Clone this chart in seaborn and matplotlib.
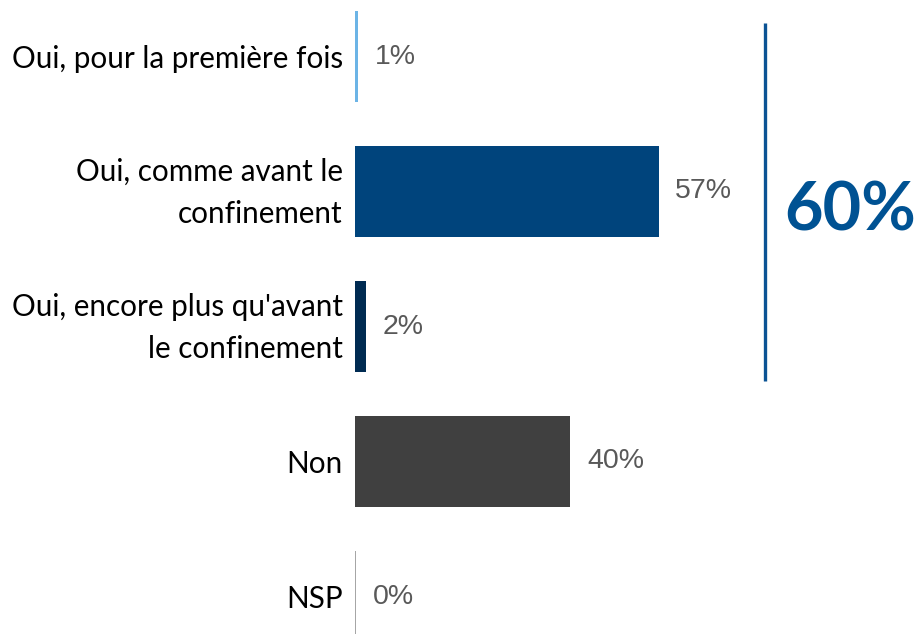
import matplotlib
matplotlib.use("Agg")
import matplotlib.pyplot as plt
import matplotlib.transforms as mtransforms
import seaborn as sns
import pandas as pd

categories = [
    "Oui, pour la première fois",
    "Oui, comme avant le\nconfinement",
    "Oui, encore plus qu'avant\nle confinement",
    "Non",
    "NSP",
]
values = [0.7, 56.9, 2.2, 40.4, 0.3]
value_labels = ["1%", "57%", "2%", "40%", "0%"]
colors = ["#6CB4E6", "#00447C", "#002B52", "#404040", "#A6A6A6"]

sns.set_theme(style="white")
plt.rcParams["font.family"] = ["Lato", "DejaVu Sans"]

df = pd.DataFrame({"cat": categories, "val": values})

W, H = 920, 634
fig = plt.figure(figsize=(W / 100, H / 100), dpi=100)
ax_left = 354.5
ax = fig.add_axes([ax_left / W, 0, (W - ax_left) / W, 1])

sns.barplot(data=df, x="val", y="cat", hue="cat", palette=colors,
            order=categories, hue_order=categories, legend=False,
            width=0.68, orient="h", ax=ax, saturation=1, linewidth=0)

px_per_unit = 5.343
ax.set_xlim(0, (W - ax_left) / px_per_unit)
row = 135.0
top_c = 56.5
ax.set_ylim(4 + (H - (top_c + 4 * row)) / row, -top_c / row)

for s in ax.spines.values():
    s.set_visible(False)
ax.set_xticks([])
ax.set_xlabel("")
ax.set_ylabel("")
ax.tick_params(axis="y", length=0, pad=8.5)
shift = mtransforms.ScaledTranslation(0, 8 / 100, fig.dpi_scale_trans)
for t in ax.get_yticklabels():
    t.set_fontsize(21.3)
    t.set_color("#000000")
    t.set_linespacing(1.6)
    t.set_multialignment("right")
    if "\n" in t.get_text():
        t.set_transform(t.get_transform() + shift)

for i, cont in enumerate(ax.containers):
    ax.bar_label(cont, labels=[value_labels[i]], padding=12,
                 fontsize=20.5, color="#595959", family="Liberation Sans")

# bracket for the "Oui" group
bx = (765 - ax_left) / px_per_unit
ax.plot([bx, bx], [-0.25, 2.4], color="#0B5394", lw=2.4, solid_capstyle="butt",
        clip_on=False)
total = round(values[0] + values[1] + values[2])
ax.text((850 - ax_left) / px_per_unit, 1.15, f"{total}%", ha="center", va="center",
        fontsize=48, fontweight="bold", color="#005293", family="Lato")

fig.savefig("out.png", dpi=100)
